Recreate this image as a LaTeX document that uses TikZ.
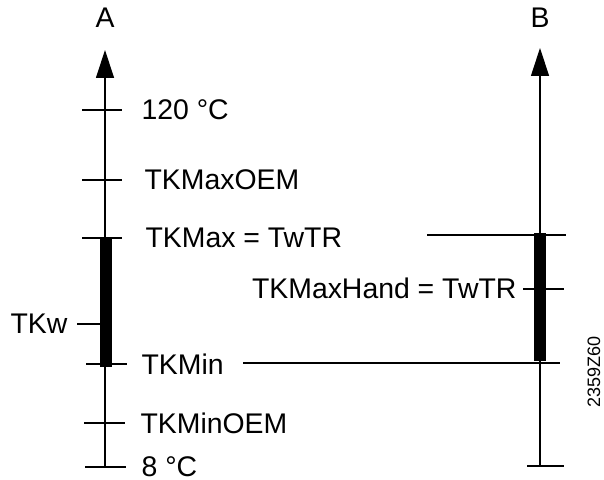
\documentclass[tikz,border=0pt]{standalone}
\usepackage{fontspec}
\setmainfont{Liberation Sans}
\usetikzlibrary{arrows.meta}

\begin{document}
\begin{tikzpicture}[x=0.5pt, y=-0.5pt, line width=0.6pt]

    \tikzset{
        lbl/.style={
            inner sep=0pt,
            text height=10pt,
            text depth=0pt,
            font=\fontsize{14.2}{17}\selectfont
        },
        axis/.style={
            -{Triangle[width=9pt,length=14pt]}
        }
    }

    \useasboundingbox (0,0) rectangle (604,480);

    % osy
    \coordinate (a0) at (105,467);
    \coordinate (a1) at (105,50);
    \coordinate (b0) at (540,466);
    \coordinate (b1) at (540,48);

    \draw[axis] (a0) -- (a1);
    \draw[axis] (b0) -- (b1);

    % pasy
    \fill (100,238) rectangle (112,367);
    \fill (534,233) rectangle (546,361);

    % znacky osy A
    \draw (82,110) -- (122,110);
    \draw (82,180) -- (122,180);
    \draw (82,238) -- (122,238);
    \draw (77,324) -- (100,324);
    \draw (86,364) -- (127,364);
    \draw (84,423) -- (125,423);
    \draw (85,467) -- (126,467);

    % znacky osy B
    \draw (427,235) -- (566,235);
    \draw (523,289) -- (564,289);
    \draw (243,363) -- (560,363);
    \draw (527,466) -- (564,466);

    % popisky
    \node[lbl] (la) at (105,18) {A};
    \node[lbl] (lb) at (540,18) {B};
    \node[lbl, anchor=west] (t120)    at (141,110) {120 °C};
    \node[lbl, anchor=west] (tmaxoem) at (144,180) {TKMaxOEM};
    \node[lbl, anchor=west] (tmax)    at (145,238) {TKMax = TwTR};
    \node[lbl, anchor=east] (thand)   at (517,289) {TKMaxHand = TwTR};
    \node[lbl, anchor=east] (tw)      at (68,324)  {TKw};
    \node[lbl, anchor=west] (tmin)    at (141,364) {TKMin};
    \node[lbl, anchor=west] (tminoem) at (140,423) {TKMinOEM};
    \node[lbl, anchor=west] (t8)      at (141,466) {8 °C};
    \node[rotate=90, inner sep=0pt, font=\fontsize{9}{11}\selectfont] (kod) at (594,372) {2359Z60};

\end{tikzpicture}
\end{document}
